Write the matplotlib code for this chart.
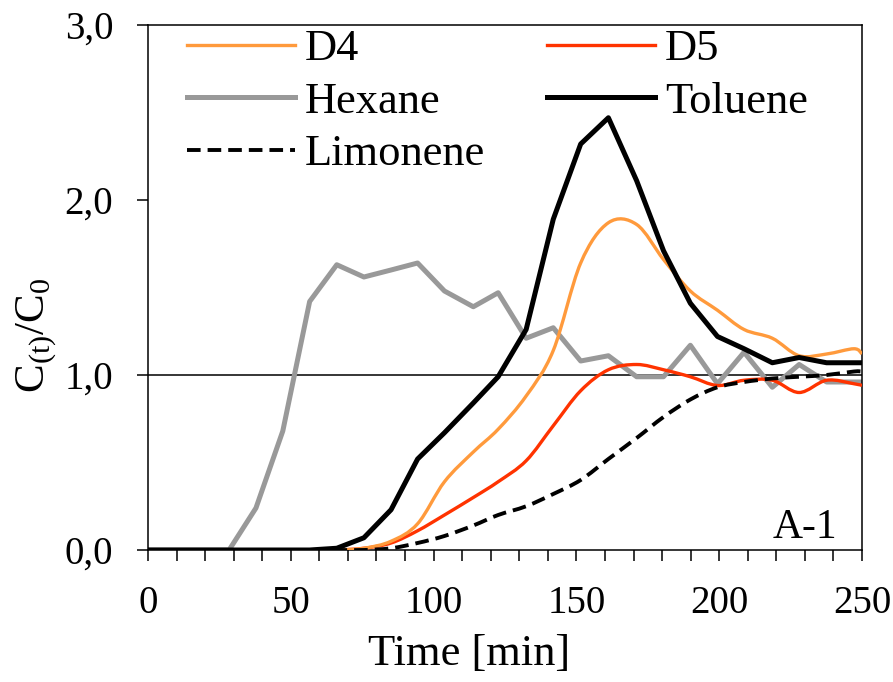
import numpy as np
import matplotlib
matplotlib.use("Agg")
import matplotlib.pyplot as plt
from matplotlib.path import Path
from matplotlib.patches import PathPatch
from matplotlib.lines import Line2D
from matplotlib.ticker import MultipleLocator, FixedLocator, FixedFormatter

plt.rcParams['font.family'] = ['Liberation Serif', 'DejaVu Serif']
plt.rcParams['mathtext.fontset'] = 'custom'
plt.rcParams['mathtext.rm'] = 'Liberation Serif'

# sampling times [min]
time = [0, 9.5, 19, 28.4, 37.8, 47.2, 56.6, 66.1, 75.6, 85.1, 94.4, 103.8, 113.9,
        122.6, 132.4, 141.9, 151.5, 161.2, 171.1, 180.5, 189.9, 199.4, 208.7,
        218.6, 228.0, 237.6, 247.2, 250.0]

hexane = [0, 0, 0, 0, 0.24, 0.68, 1.42, 1.63, 1.56, 1.60, 1.64, 1.48, 1.39,
          1.47, 1.21, 1.27, 1.08, 1.11, 0.99, 0.99, 1.17, 0.95, 1.13,
          0.93, 1.06, 0.96, 0.96, 0.96]
toluene = [0, 0, 0, 0, 0, 0, 0, 0.01, 0.07, 0.23, 0.52, 0.67, 0.84,
           0.99, 1.26, 1.89, 2.32, 2.47, 2.11, 1.71, 1.41, 1.22, 1.15,
           1.07, 1.10, 1.07, 1.07, 1.07]
d4 = [0, 0, 0, 0, 0, 0, 0, 0, 0.01, 0.05, 0.15, 0.39, 0.56,
      0.69, 0.88, 1.14, 1.64, 1.87, 1.86, 1.66, 1.48, 1.37, 1.26,
      1.21, 1.11, 1.12, 1.15, 1.12]
d5 = [0, 0, 0, 0, 0, 0, 0, 0, 0.01, 0.04, 0.11, 0.20, 0.30,
      0.39, 0.51, 0.71, 0.91, 1.03, 1.06, 1.03, 0.99, 0.94, 0.97,
      0.97, 0.90, 0.97, 0.95, 0.94]
limonene = [0, 0, 0, 0, 0, 0, 0, 0, 0, 0.01, 0.04, 0.08, 0.14,
            0.20, 0.25, 0.32, 0.40, 0.52, 0.64, 0.76, 0.86, 0.93, 0.96,
            0.98, 0.99, 1.00, 1.02, 1.02]

y_ticks = [0, 1, 2, 3]
y_ticklabels = ["0,0", "1,0", "2,0", "3,0"]


def smooth_path(x, y):
    # excel-like smoothed line: catmull-rom -> cubic bezier
    x = np.asarray(x, float)
    y = np.asarray(y, float)
    n = len(x)
    verts = [(x[0], y[0])]
    codes = [Path.MOVETO]
    for i in range(n - 1):
        i0 = max(i - 1, 0)
        i3 = min(i + 2, n - 1)
        c1 = (x[i] + (x[i + 1] - x[i0]) / 6, y[i] + (y[i + 1] - y[i0]) / 6)
        c2 = (x[i + 1] - (x[i3] - x[i]) / 6, y[i + 1] - (y[i3] - y[i]) / 6)
        verts += [c1, c2, (x[i + 1], y[i + 1])]
        codes += [Path.CURVE4] * 3
    return Path(verts, codes)


c_d4 = '#FF9A3C'
c_d5 = '#FF3300'
c_hex = '#999999'
dash = (0, (3.5, 1.8))

fig = plt.figure(figsize=(8.93, 6.82), dpi=100)
ax = fig.add_axes([148 / 893, 1 - 550 / 682, 714 / 893, 525 / 682])

ax.axhline(1.0, color='black', lw=1.1, zorder=1)

ax.plot(time, hexane, color=c_hex, lw=3.6, zorder=2)
ax.add_patch(PathPatch(smooth_path(time, d5), fill=False, edgecolor=c_d5, lw=2.4, zorder=3))
ax.add_patch(PathPatch(smooth_path(time, d4), fill=False, edgecolor=c_d4, lw=2.4, zorder=4))
ax.add_patch(PathPatch(smooth_path(time, limonene), fill=False, edgecolor='black',
                       lw=2.8, linestyle=dash, zorder=5))
ax.plot(time, toluene, color='black', lw=3.6, zorder=6)

ax.set_xlim(0, 250)
ax.set_ylim(0, 3)
ax.xaxis.set_major_locator(MultipleLocator(50))
ax.xaxis.set_minor_locator(MultipleLocator(10))
ax.yaxis.set_major_locator(FixedLocator(y_ticks))
ax.yaxis.set_major_formatter(FixedFormatter(y_ticklabels))
ax.tick_params(axis='both', which='both', direction='out', length=8, width=1.1,
               labelsize=28, pad=17)
for s in ax.spines.values():
    s.set_linewidth(1.1)

ax.set_xlabel('Time [min]', fontsize=32)
ax.xaxis.set_label_coords(0.45, -0.16)
ax.set_ylabel(r'C$_{\mathregular{(t)}}$/C$_{\mathregular{0}}$', fontsize=31)
ax.yaxis.set_label_coords(-0.125, 0.41)

ax.text(0.966, 0.023, 'A-1', transform=ax.transAxes, ha='right', va='baseline', fontsize=30)

handles = [
    Line2D([], [], color=c_d4, lw=2.4, label='D4'),
    Line2D([], [], color=c_hex, lw=3.6, label='Hexane'),
    Line2D([], [], color='black', lw=2.8, linestyle=dash, label='Limonene'),
    Line2D([], [], color=c_d5, lw=2.4, label='D5'),
    Line2D([], [], color='black', lw=3.6, label='Toluene'),
]
ax.legend(handles=handles, ncol=2, loc='upper left', bbox_to_anchor=(0.054, 0.992),
          frameon=False, fontsize=32, borderpad=0, borderaxespad=0,
          handlelength=2.43, handletextpad=0.23, labelspacing=0.28, columnspacing=1.39)

fig.savefig('out.png', dpi=100)
